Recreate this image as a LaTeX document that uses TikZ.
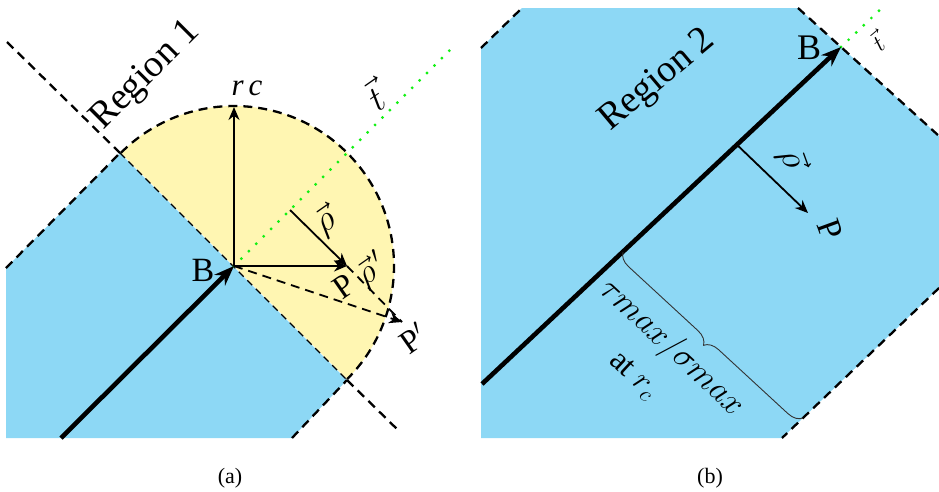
\RequirePackage{fix-cm}
\documentclass[tikz,border=0pt]{standalone}
\usepackage{fontspec}
\setmainfont{Liberation Serif}
\usetikzlibrary{arrows.meta,decorations.pathreplacing,calc}
\definecolor{bl}{RGB}{141,216,245}
\definecolor{yl}{RGB}{255,246,178}
\definecolor{gr}{RGB}{20,240,20}
\newcommand{\fs}[1]{\fontsize{#1}{#1}\selectfont}
\begin{document}
\begin{tikzpicture}[x=1pt,y=-1pt,
  dsh/.style={dash pattern=on 9pt off 6pt, line width=2.3pt},
  dshthin/.style={dash pattern=on 7pt off 5pt, line width=1.3pt},
  dshmid/.style={dash pattern=on 9pt off 6pt, line width=1.8pt},
  thk/.style={line width=4.6pt, -{Stealth[length=20pt,width=15pt]}},
  thn/.style={line width=1.8pt, -{Stealth[length=13pt,width=11pt]}},
  grd/.style={gr, line width=3.2pt, dash pattern=on 0pt off 10.5pt, line cap=round},
  lbl/.style={inner sep=0pt, outer sep=0pt},
  brc/.style={decorate, decoration={brace, amplitude=14pt}, line width=0.9pt, black!80}]
\useasboundingbox (0,0) rectangle (939,491);
% ---------------- panel (a) ----------------
\coordinate (B) at (234,266);
\coordinate (Ctl) at (120,153);
\coordinate (Cbr) at (347,380);
\coordinate (Ltop) at (7,42);
\coordinate (Lbot) at (400,432);
\coordinate (Lft) at (6,268);
\coordinate (Bot) at (292,438);
\coordinate (Rc) at (234,107);
\coordinate (P) at (347,266);
\coordinate (Rho0) at (290,210);
\coordinate (Pp) at (402,322);
\coordinate (Tend) at (456,44);
\coordinate (Astart) at (61,438);

\fill[bl] (Lft) -- (Ctl) -- (Cbr) -- (Bot) -- (6,438) -- cycle;
\fill[yl] (B) ++(225:160) arc[start angle=225, end angle=405, radius=160] -- cycle;

\draw[dsh] (Ltop) -- (Ctl);
\draw[dshthin] (Ctl) -- (Cbr);
\draw[dsh] (Cbr) -- (Lbot);
\draw[dsh] (Lft) -- (Ctl);
\draw[dsh] (Bot) -- (Cbr);
\draw[dsh] (B) ++(225:160) arc[start angle=225, end angle=405, radius=160];

\draw[grd] (B) -- (Tend);
\draw[dshmid, -{Stealth[length=13pt,width=11pt]}] (B) -- (Pp);
\draw[dshmid] (P) -- (Pp);
\draw[thn] (B) -- (Rc);
\draw[thn] (B) -- (P);
\draw[thn] (Rho0) -- (P);
\draw[thk] (Astart) -- (B);

\node[lbl, rotate=45, font=\fs{38}] (reg1) at (146,76) {Region 1};
\node[lbl, font=\fs{31}] (rc) at (247,88) {\itshape r\,c};
\node[lbl, rotate=35, font=\fs{36}] (ta) at (374,96) {$\vec{t}$};
\node[lbl, font=\fs{34}] (Ba) at (203,270) {B};
\node[lbl, rotate=35, font=\fs{36}] (rhoa) at (326,222) {$\vec{\rho}$};
\node[lbl, rotate=35, font=\fs{34}] (rhop) at (372,270) {$\vec{\rho}\,'$};
\node[lbl, rotate=35, font=\fs{33}] (Pa) at (344,286) {P};
\node[lbl, rotate=35, font=\fs{33}] (Ppa) at (413,338) {P$'$};
\node[lbl, font=\fs{22}] (capa) at (230,478) {(a)};

% ---------------- panel (b) ----------------
\coordinate (B2) at (841,47);
\coordinate (S2) at (482,384);
\coordinate (T2) at (886,4);
\fill[bl] (481,48) -- (522,8) -- (798,8) -- (939,136) -- (939,288) -- (782,438) -- (481,438) -- cycle;
\draw[dsh] (481,48) -- (522,8);
\draw[dsh] (798,8) -- (939,136);
\draw[dsh] (939,288) -- (782,438);
\draw[grd] (B2) -- (T2);
\draw[thk] (S2) -- (B2);
\coordinate (F2) at ($(S2)!0.71!(B2)$);
\coordinate (P2) at (808,213);
\draw[thn] (F2) -- (P2);
\coordinate (Br1) at (623,252);
\coordinate (Br2) at (803,418);
\draw[brc] (Br2) -- (Br1);

\node[lbl, rotate=40, font=\fs{38}] (reg2) at (658,81) {Region 2};
\node[lbl, font=\fs{36}] (Bb) at (809,48) {B};
\node[lbl, rotate=40, font=\fs{24}] (tb) at (877,42) {$\vec{t}$};
\node[lbl, rotate=-70, font=\fs{36}] (rhob) at (792,159) {$\vec{\rho}$};
\node[lbl, rotate=-70, font=\fs{34}] (Pb) at (830,230) {P};
\node[lbl, rotate=-43, font=\fs{34}] (tm) at (672,348) {$\tau max/\sigma max$};
\node[lbl, rotate=-43, font=\fs{32}] (atrc) at (633,376) {at $r_c$};
\node[lbl, font=\fs{22}] (capb) at (710,478) {(b)};
\end{tikzpicture}
\end{document}
